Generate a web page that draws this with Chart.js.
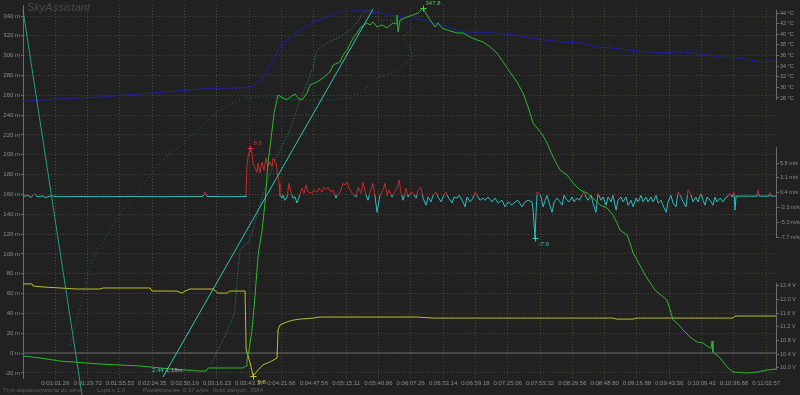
<!DOCTYPE html>
<html><head><meta charset="utf-8">
<script src="https://cdn.jsdelivr.net/npm/chart.js@4.4.1/dist/chart.umd.min.js"></script>
<style>
html,body{margin:0;padding:0;background:#212121;}
#wrap{position:relative;width:800px;height:395px;overflow:hidden;background:#212121;}
canvas{display:block;}
.t{position:absolute;white-space:nowrap;font-family:'Liberation Sans',Arial,sans-serif;line-height:1;}
#title{left:27px;top:2px;font-size:11px;font-style:italic;color:#4b4b4b;}
.f{top:387px;font-size:6px;color:#5e5e5e;}
</style></head><body>
<div id="wrap"><canvas id="c" width="800" height="395"></canvas>
<div class="t" id="title">SkyAssistant</div>
<div class="t f" style="left:3px">Tryb dopasowywania do okna</div>
<div class="t f" style="left:97px">Lupa x 1.0</div>
<div class="t f" style="left:143px">Powiększenie: 0.37 s/pix</div>
<div class="t f" style="left:213px">Ilość danych: 3584</div>
</div>
<script>
// ---- data (x = sample index, 0..sampleCount) ----
const sampleCount = 3584;
const timeLabels = ['0:01:01.26','0:01:29.72','0:01:55.53','0:02:24.35','0:02:50.19','0:03:16.23','0:03:43.37','0:04:21.66','0:04:47.56','0:05:15.11','0:05:40.86','0:06:07.26','0:06:33.14','0:06:59.18','0:07:25.06','0:07:53.32','0:08:29.56','0:08:48.80','0:09:16.88','0:09:43.56','0:10:09.42','0:10:36.68','0:11:02.57'];
const tickStep = 153.8;
const altTicks = [-20,0,20,40,60,80,100,120,140,160,180,200,220,240,260,280,300,320,340];
const tempTicks = [28,30,32,34,36,38,40,42,44];
const speedTicks = [-7.7,-5.0,-2.3,0.4,3.1,5.8];
const voltTicks = [10.0,10.4,10.8,11.2,11.6,12.0,12.4];

const altitude = [[0,-3.0],[81,-5.0],[176,-8.1],[367,-11.1],[557,-13.1],[700,-16.1],[843,-18.2],[871,-18.2],[881,-15.1],[1047,-15.1],[1062,-13.1],[1066,-7.1],[1076,3.0],[1090,23.2],[1104,56.5],[1119,98.9],[1138,124.1],[1152,151.4],[1166,191.7],[1180,214.9],[1195,242.2],[1214,260.3],[1238,257.3],[1257,255.3],[1271,258.3],[1295,261.3],[1309,257.3],[1328,255.3],[1352,262.3],[1366,270.4],[1399,273.4],[1428,277.5],[1461,283.5],[1476,290.6],[1509,293.6],[1523,300.7],[1542,305.7],[1571,317.8],[1590,322.9],[1604,327.9],[1637,333.0],[1652,331.0],[1666,334.0],[1685,328.9],[1709,331.0],[1733,327.9],[1761,333.0],[1776,332.0],[1780,341.0],[1785,323.9],[1795,336.0],[1828,339.0],[1856,341.0],[1880,343.1],[1904,347.8],[1928,339.0],[1947,333.0],[1961,328.9],[1975,333.0],[1994,327.9],[2018,325.9],[2066,322.9],[2094,322.9],[2128,318.8],[2161,315.8],[2190,313.8],[2223,308.8],[2256,302.7],[2285,293.6],[2318,283.5],[2351,273.4],[2380,262.3],[2404,248.2],[2428,232.1],[2447,227.0],[2470,221.0],[2494,211.9],[2523,197.8],[2556,184.6],[2589,179.6],[2618,171.5],[2651,164.5],[2685,161.4],[2713,156.4],[2747,149.3],[2780,146.3],[2808,139.2],[2827,131.2],[2842,124.1],[2875,119.1],[2889,111.0],[2904,100.9],[2923,93.8],[2961,78.7],[3008,63.6],[3065,53.5],[3080,43.4],[3094,33.3],[3113,30.3],[3142,23.2],[3175,16.1],[3208,11.1],[3237,10.1],[3270,5.0],[3275,5.0],[3280,12.1],[3284,1.0],[3318,-5.0],[3351,-14.1],[3380,-19.2],[3446,-20.2],[3494,-19.2],[3541,-17.2],[3584,-16.1]];

const temperature = [[0,27.4],[176,27.8],[367,28.2],[605,28.9],[843,29.7],[1033,29.9],[1081,30.1],[1104,30.4],[1138,31.4],[1166,33.3],[1190,35.2],[1223,37.6],[1271,39.5],[1319,40.8],[1380,42.3],[1447,43.2],[1509,44.2],[1571,44.4],[1637,44.4],[1699,44.0],[1780,43.4],[1856,43.1],[1937,42.3],[2018,41.4],[2094,40.4],[2175,40.4],[2256,40.2],[2332,39.9],[2413,39.3],[2494,38.9],[2570,38.5],[2651,38.4],[2732,37.6],[2808,37.4],[2889,37.0],[2970,36.7],[3046,36.5],[3127,36.7],[3223,36.3],[3318,35.7],[3413,35.5],[3508,34.8],[3584,35.0]];

const voltage = [[0,12.46],[43,12.46],[48,12.40],[95,12.37],[176,12.34],[257,12.31],[367,12.31],[381,12.34],[605,12.34],[614,12.25],[733,12.25],[757,12.19],[771,12.25],[795,12.31],[904,12.31],[928,12.19],[971,12.19],[985,12.25],[1057,12.25],[1062,10.53],[1081,10.15],[1095,9.77],[1119,9.94],[1142,10.09],[1176,10.18],[1209,10.29],[1214,11.11],[1223,11.26],[1257,11.35],[1285,11.40],[1319,11.43],[1380,11.46],[1414,11.49],[1876,11.49],[1952,11.46],[2808,11.46],[2827,11.43],[2904,11.43],[2923,11.46],[3380,11.46],[3389,11.52],[3584,11.52]];

const vspeed = [[0,-0.3],[24,-0.1],[38,-0.5],[57,0.3],[67,-0.4],[90,-0.2],[109,-0.5],[129,-0.2],[176,-0.35],[271,-0.3],[367,-0.35],[509,-0.3],[652,-0.35],[795,-0.3],[857,-0.3],[866,0.5],[876,-0.3],[985,-0.35],[1057,-0.3],
[1061,-0.4],[1066,5.1],[1071,6.9],[1081,8.6],[1090,7.6],[1095,5.8],[1114,4.1],[1119,5.8],[1128,4.0],[1138,6.0],[1147,4.5],[1157,6.7],[1166,5.1],[1176,6.0],[1185,5.1],[1190,6.7],[1204,5.8],[1209,4.5],[1219,2.1],[1223,-0.1],
[1233,-0.6],[1238,-0.1],[1247,-1.0],[1257,-0.4],[1266,2.1],[1276,0.3],[1285,-0.6],[1295,-0.4],[1304,-1.5],[1314,-0.4],[1328,1.2],[1338,0.3],[1347,1.8],[1357,0.5],[1376,0.3],[1385,0.9],[1399,0.5],[1409,1.2],[1423,0.5],[1433,1.4],[1442,0.9],[1452,1.4],[1466,0.5],[1476,0.9],[1490,-0.6],[1495,-0.1],[1509,0.5],[1523,2.1],[1533,1.8],[1542,2.3],[1552,1.2],[1566,0.3],[1576,-0.1],[1585,-0.4],[1595,1.4],[1609,0.3],[1618,2.3],[1633,-0.1],[1642,-1.0],[1652,0.5],[1666,2.1],[1676,-0.4],[1685,-3.2],[1699,-0.1],[1714,0.9],[1723,2.1],[1733,-0.1],[1742,0.9],[1756,-0.4],[1766,0.3],[1780,1.2],[1790,2.7],[1799,0.3],[1809,-1.0],[1823,1.2],[1833,-0.4],[1847,0.5],[1856,0.3],[1871,-0.6],[1880,0.9],[1894,1.4],[1904,-0.6],[1918,-1.9],[1928,-0.4],[1942,-1.3],[1952,-0.1],[1966,0.5],[1975,-0.4],[1990,-1.3],[1999,-0.4],[2013,0.5],[2023,-0.4],[2042,-1.5],[2052,-0.4],[2066,-0.6],[2075,-0.1],[2090,-1.0],[2104,-2.2],[2113,-0.4],[2128,-1.3],[2142,-0.6],[2152,0.5],[2161,-0.1],[2175,-1.0],[2190,-0.6],[2199,-1.0],[2213,-0.4],[2232,-1.3],[2247,-0.6],[2261,-1.5],[2280,-1.0],[2294,-2.2],[2309,-1.3],[2328,-1.9],[2342,-1.3],[2356,-1.0],[2375,-2.2],[2390,-1.3],[2404,-1.0],[2423,-1.3],[2428,-2.8],[2437,-7.9],[2442,-3.3],[2447,0.5],[2456,0.3],[2466,-0.4],[2475,-2.2],[2485,-1.0],[2494,-0.1],[2504,-1.5],[2518,-3.2],[2528,-1.3],[2542,-0.6],[2551,-1.0],[2566,-1.9],[2575,-0.1],[2589,-1.0],[2599,-1.3],[2613,-0.4],[2623,-1.3],[2637,-0.6],[2647,-1.0],[2661,-0.1],[2670,0.5],[2680,-0.4],[2689,-1.0],[2704,-0.1],[2713,-1.5],[2727,-3.2],[2737,0.3],[2751,-1.0],[2761,-0.4],[2775,-1.9],[2785,-0.4],[2799,-1.3],[2808,-0.1],[2823,-2.8],[2832,-1.0],[2846,-0.4],[2856,-1.3],[2870,-0.4],[2880,-1.9],[2894,-1.0],[2904,-2.2],[2918,-0.6],[2927,-1.3],[2942,-0.1],[2951,-1.3],[2965,-0.4],[2975,-1.3],[2989,-0.4],[2999,-1.3],[3013,-0.1],[3023,-1.5],[3037,-1.0],[3046,-1.9],[3061,-3.2],[3070,-1.3],[3084,-0.1],[3094,-1.5],[3108,-2.2],[3118,0.5],[3132,-0.4],[3142,-1.3],[3156,-2.2],[3165,0.9],[3180,-0.1],[3189,-1.3],[3203,-0.4],[3213,-1.3],[3227,0.3],[3237,-1.0],[3246,-1.9],[3256,-0.4],[3270,-1.0],[3284,-1.9],[3294,-0.4],[3303,-1.3],[3318,-0.6],[3332,-1.3],[3342,-0.6],[3351,-0.4],[3365,0.3],[3375,-0.4],[3384,0.5],[3389,-2.8],[3394,-0.25],[3494,-0.25],[3499,0.9],[3504,-0.25],[3551,-0.25],[3556,0.4],[3561,-0.25],[3584,-0.25]];

const gpsTraceA = [[224,8.1],[281,53.5],[319,86.8],[352,103.9],[381,111.0],[462,141.3],[533,159.4],[590,174.6],[638,187.7],[666,194.7],[781,214.9],[843,228.0],[923,242.2],[999,252.3],[1066,258.3],[1161,258.3],[1319,255.3],[1476,255.3],[1557,257.3],[1637,267.4],[1699,278.5],[1761,282.5],[1795,288.6],[1856,297.7],[1842,308.8],[1809,318.8],[1842,325.9],[1856,328.9],[1828,333.0],[1761,336.0],[1699,336.0],[1661,344.1]];
const gpsTraceB = [[1661,344.1],[1637,346.1],[1618,343.1],[1590,333.0],[1557,325.9],[1509,318.8],[1447,312.8],[1399,305.7],[1380,288.6],[1352,272.4],[1319,255.3],[1271,225.0],[1200,194.7],[1138,157.4],[1081,114.0],[1033,103.9],[1019,73.7],[1009,43.4],[995,33.3],[971,21.2],[947,11.1],[928,3.0],[890,-12.1]];

const rulerA = [[0,346],[281,-42.4]];
const rulerB = [[666,-24.2],[1666,347]];
const zeroRef = [[0,0],[3584,0]];

// labelled extremes: [sample, value, axis, text]
const marks = [[1904,347.8,'y','347.8'],[1081,8.6,'ySpeed','8.6'],[2437,-7.9,'ySpeed','-7.9'],[1095,9.77,'yVolt','9.8']];
const rulerNote = [666,-24.2,'y','2.44','1:19m'];

// ---- rendering ----
const pts = a => a.map(([x,y]) => ({x,y}));
const FONT = "'Liberation Sans Narrow','Liberation Sans',Arial,sans-serif";
const TICK = '#8c8c8c';
const GRID = 'rgba(150,150,110,0.35)';
const AXIS = '#6c6c6c';

const axisSpans = {yTemp:[27.62,44.56], ySpeed:[-7.9,8.7], yVolt:[9.94,12.49]};
const markStyle = {
  '347.8':{c:'#46d046',dx:2,dy:-2,base:'bottom'},
  '8.6':{c:'#d23434',dx:3,dy:-2,base:'bottom'},
  '-7.9':{c:'#35c4c4',dx:3,dy:3,base:'top'},
  '9.8':{c:'#c8c832',dx:4,dy:3,base:'top'}
};

const overlay = {
  id:'overlay',
  beforeDatasetDraw(chart,args){
    const ds = chart.data.datasets[args.index];
    if(!ds.signSide) return;
    const z = chart.scales.ySpeed.getPixelForValue(0);
    const a = chart.chartArea, ctx = chart.ctx;
    ctx.save(); ctx.beginPath();
    if(ds.signSide==='pos') ctx.rect(a.left,a.top,a.right-a.left,z-a.top);
    else ctx.rect(a.left,z,a.right-a.left,a.bottom-z);
    ctx.clip();
  },
  afterDatasetDraw(chart,args){
    const ds = chart.data.datasets[args.index];
    if(ds.signSide) chart.ctx.restore();
  },
  afterDraw(chart){
    const ctx = chart.ctx, xs = chart.scales.x;
    ctx.save();
    ctx.strokeStyle = AXIS; ctx.lineWidth = 1;
    Object.keys(axisSpans).forEach(id=>{
      const s = chart.scales[id], r = axisSpans[id];
      const x = Math.round(s.left)+0.5;
      ctx.beginPath();
      ctx.moveTo(x, s.getPixelForValue(r[0]));
      ctx.lineTo(x, s.getPixelForValue(r[1]));
      ctx.stroke();
    });
    ctx.font = "6px " + FONT;
    marks.forEach(([mx,my,ax,txt])=>{
      const st = markStyle[txt];
      const px = Math.round(xs.getPixelForValue(mx))+0.5, py = Math.round(chart.scales[ax].getPixelForValue(my))+0.5;
      ctx.strokeStyle = st.c; ctx.fillStyle = st.c;
      ctx.beginPath(); ctx.moveTo(px-3,py); ctx.lineTo(px+3,py); ctx.moveTo(px,py-3); ctx.lineTo(px,py+3); ctx.stroke();
      ctx.textAlign='left'; ctx.textBaseline = st.base;
      ctx.fillText(txt, px+st.dx, py+st.dy);
    });
    const [rx,ry,rax,t1,t2] = rulerNote;
    const qx = xs.getPixelForValue(rx), qy = chart.scales[rax].getPixelForValue(ry);
    ctx.textBaseline='middle'; ctx.textAlign='left';
    ctx.fillStyle='#3cc8b4'; ctx.fillText(t1, qx-11, qy-7);
    ctx.fillStyle='#8fb8b0'; ctx.fillText(t2, qx+3, qy-7);
    ctx.restore();
  }
};

const tickFont = {family:FONT, size:6};
const rightAxis = (weight,min,max,list,unit,dec) => ({
  type:'linear', position:'right', stack:'r', stackWeight:weight, min, max, bounds:'data',
  afterBuildTicks: s => { s.ticks = list.map(v=>({value:v})); },
  afterFit: s => { s.width = 24; },
  ticks:{color:TICK, font:{family:FONT,size:5.5}, padding:1, autoSkip:false,
    callback: v => (dec ? Number(v).toFixed(1) : v) + ' ' + unit},
  grid:{drawOnChartArea:false, drawTicks:true, tickLength:3, tickColor:AXIS},
  border:{display:false}
});

new Chart(document.getElementById('c'), {
  type:'line',
  data:{datasets:[
    {data:pts(rulerA), borderColor:'#1f9e8a', yAxisID:'y', clip:false, order:1},
    {data:pts(rulerB), borderColor:'#34c6b6', yAxisID:'y', order:1},
    {data:pts(altitude), borderColor:'#2db82d', yAxisID:'y', order:2},
    {data:pts(voltage), borderColor:'#bebe26', yAxisID:'yVolt', order:3},
    {data:pts(vspeed), borderColor:'#c82a2a', yAxisID:'ySpeed', signSide:'pos', order:4},
    {data:pts(vspeed), borderColor:'#30bcbc', yAxisID:'ySpeed', signSide:'neg', order:4},
    {data:pts(temperature), borderColor:'#2020a4', yAxisID:'yTemp', order:5},
    {data:pts(gpsTraceA), borderColor:'rgba(40,150,130,0.65)', borderDash:[1,3], yAxisID:'y', order:6},
    {data:pts(gpsTraceB), borderColor:'rgba(45,160,140,0.8)', borderDash:[1,1.5], yAxisID:'y', order:6},
    {data:pts(zeroRef), borderColor:'#6e6e6e', yAxisID:'y', order:7}
  ]},
  options:{
    responsive:false, animation:false, normalized:false,
    layout:{padding:{top:5,left:0,right:0,bottom:0}},
    elements:{point:{radius:0,hoverRadius:0}, line:{borderWidth:1, tension:0, fill:false}},
    plugins:{legend:{display:false}, tooltip:{enabled:false}},
    events:[],
    scales:{
      x:{type:'linear', position:'bottom', min:0, max:sampleCount, bounds:'data',
        afterBuildTicks: s => { s.ticks = timeLabels.map((_,i)=>({value:(i+1)*tickStep})); },
        afterFit: s => { s.height = 17; },
        ticks:{color:TICK, font:tickFont, padding:2, autoSkip:false, maxRotation:0, minRotation:0,
          callback:(v,i)=>timeLabels[i]},
        grid:{color:GRID, drawTicks:false, lineWidth:1},
        border:{display:false, dash:[1,2]}
      },
      y:{type:'linear', position:'left', min:-25.2, max:351.1, bounds:'data',
        afterBuildTicks: s => { s.ticks = altTicks.map(v=>({value:v})); },
        afterFit: s => { s.width = 23; },
        ticks:{color:TICK, font:tickFont, padding:1, autoSkip:false, callback:v=>v+' m'},
        grid:{color: c => (c.tick && c.tick.value===0) ? 'rgba(0,0,0,0)' : GRID, drawTicks:true, tickLength:2, tickColor:AXIS},
        border:{display:true, color:AXIS, dash:[1,2]}
      },
      yTemp: rightAxis(117, 23.48, 45.51, tempTicks, '°C', false),
      ySpeed: rightAxis(140, -12.26, 13.28, speedTicks, 'm/s', true),
      yVolt: rightAxis(116, 9.707, 13.10, voltTicks, 'V', true)
    }
  },
  plugins:[overlay]
});
</script>
</body></html>
